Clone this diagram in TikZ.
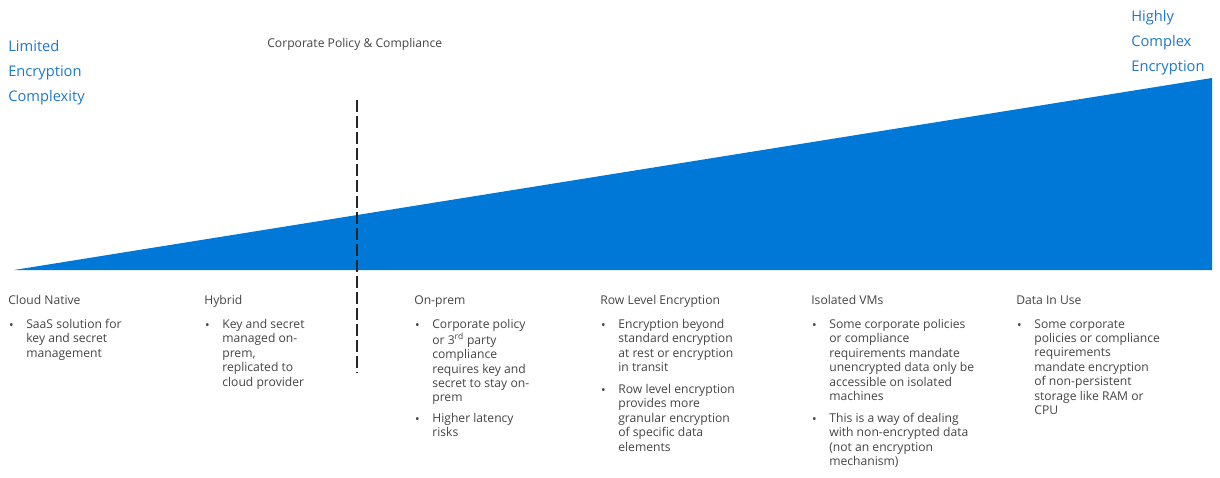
\documentclass[tikz,border=0pt]{standalone}
\usepackage{fontspec}
\setmainfont{Open Sans}
\usepackage{xcolor}
\usetikzlibrary{positioning}
\definecolor{msblue}{HTML}{0078D7}
\definecolor{lblblue}{HTML}{1D78C8}
\definecolor{txtgray}{HTML}{444444}
\newcommand{\bitem}[4]{%
  \node[item] (#1) at (#2,#3-10.08) {#4};
  \node[bul] (#1b) at (#2-12,#3) {\textbullet};}

\begin{document}
\begin{tikzpicture}[x=0.75pt, y=-0.75pt, line width=0.5pt,
  font=\fontsize{9.1}{10.8}\selectfont,
  head/.style={anchor=base west, inner sep=0pt, text=txtgray},
  item/.style={anchor=north west, inner sep=0pt, align=left, text=txtgray, execute at begin node=\strut},
  bul/.style={anchor=base east, inner sep=0pt, text=txtgray},
  endlbl/.style={anchor=north west, inner sep=0pt, align=left, text=lblblue, font=\fontsize{11}{18.75}\selectfont, execute at begin node=\strut}]
\useasboundingbox (0,0) rectangle (1220,478);
%% wedge and policy line
\fill[msblue] (14,270) coordinate (w0) -- (1212,270) coordinate (w1) -- (1212,78) coordinate (w2) -- cycle;
\node[head] (policy) at (267,48) {Corporate Policy \& Compliance};
\coordinate (p0) at (357,100);
\coordinate (p1) at (357,373);
\draw[line width=1.6pt, draw=black!85, dash pattern=on 9pt off 3pt] (p0) -- (p1);
\node[endlbl] (low) at (8,58-17.5) {Limited\\Encryption\\Complexity};
\node[endlbl] (high) at (1131,28-17.5) {Highly\\Complex\\Encryption};
%% columns
\node[head] (h1) at (8,304) {Cloud Native};
\bitem{c1}{26}{329}{SaaS solution for\\key and secret\\management}
\node[head] (h2) at (204,304) {Hybrid};
\bitem{c2}{222}{329}{Key and secret\\managed on-\\prem,\\replicated to\\cloud provider}
\node[head] (h3) at (414,304) {On-prem};
\bitem{c3}{432}{329}{Corporate policy\\or 3\textsuperscript{rd} party\\compliance\\requires key and\\secret to stay on-\\prem}
\bitem{c3x}{432}{423}{Higher latency\\risks}
\node[head] (h4) at (600,304) {Row Level Encryption};
\bitem{c4}{618}{329}{Encryption beyond\\standard encryption\\at rest or encryption\\in transit}
\bitem{c4x}{618}{394}{Row level encryption\\provides more\\granular encryption\\of specific data\\elements}
\node[head] (h5) at (811,304) {Isolated VMs};
\bitem{c5}{829}{329}{Some corporate policies\\or compliance\\requirements mandate\\unencrypted data only be\\accessible on isolated\\machines}
\bitem{c5x}{829}{423}{This is a way of dealing\\with non-encrypted data\\(not an encryption\\mechanism)}
\node[head] (h6) at (1016,304) {Data In Use};
\bitem{c6}{1034}{329}{Some corporate\\policies or compliance\\requirements\\mandate encryption\\of non-persistent\\storage like RAM or\\CPU}
\end{tikzpicture}
\end{document}
